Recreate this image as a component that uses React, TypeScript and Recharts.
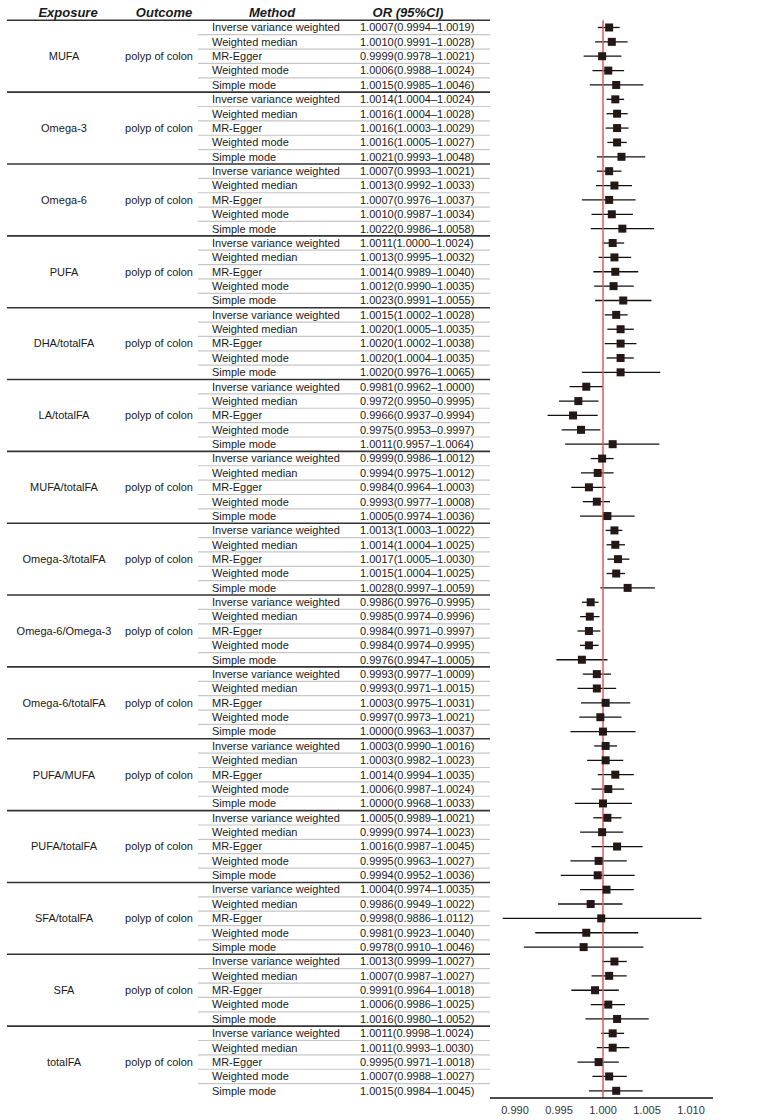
import { ScatterChart, Scatter, XAxis, YAxis, ErrorBar, ReferenceLine } from 'recharts';

const exposures = [
  'MUFA', 'Omega-3', 'Omega-6', 'PUFA', 'DHA/totalFA', 'LA/totalFA', 'MUFA/totalFA', 'Omega-3/totalFA',
  'Omega-6/Omega-3', 'Omega-6/totalFA', 'PUFA/MUFA', 'PUFA/totalFA', 'SFA/totalFA', 'SFA', 'totalFA',
];
const outcome = 'polyp of colon';
const methods = ['Inverse variance weighted', 'Weighted median', 'MR-Egger', 'Weighted mode', 'Simple mode'];

const orValues = [
  1.0007, 1.001, 0.9999, 1.0006, 1.0015,
  1.0014, 1.0016, 1.0016, 1.0016, 1.0021,
  1.0007, 1.0013, 1.0007, 1.001, 1.0022,
  1.0011, 1.0013, 1.0014, 1.0012, 1.0023,
  1.0015, 1.002, 1.002, 1.002, 1.002,
  0.9981, 0.9972, 0.9966, 0.9975, 1.0011,
  0.9999, 0.9994, 0.9984, 0.9993, 1.0005,
  1.0013, 1.0014, 1.0017, 1.0015, 1.0028,
  0.9986, 0.9985, 0.9984, 0.9984, 0.9976,
  0.9993, 0.9993, 1.0003, 0.9997, 1.0,
  1.0003, 1.0003, 1.0014, 1.0006, 1.0,
  1.0005, 0.9999, 1.0016, 0.9995, 0.9994,
  1.0004, 0.9986, 0.9998, 0.9981, 0.9978,
  1.0013, 1.0007, 0.9991, 1.0006, 1.0016,
  1.0011, 1.0011, 0.9995, 1.0007, 1.0015,
];
const ciLow = [
  0.9994, 0.9991, 0.9978, 0.9988, 0.9985,
  1.0004, 1.0004, 1.0003, 1.0005, 0.9993,
  0.9993, 0.9992, 0.9976, 0.9987, 0.9986,
  1.0, 0.9995, 0.9989, 0.999, 0.9991,
  1.0002, 1.0005, 1.0002, 1.0004, 0.9976,
  0.9962, 0.995, 0.9937, 0.9953, 0.9957,
  0.9986, 0.9975, 0.9964, 0.9977, 0.9974,
  1.0003, 1.0004, 1.0005, 1.0004, 0.9997,
  0.9976, 0.9974, 0.9971, 0.9974, 0.9947,
  0.9977, 0.9971, 0.9975, 0.9973, 0.9963,
  0.999, 0.9982, 0.9994, 0.9987, 0.9968,
  0.9989, 0.9974, 0.9987, 0.9963, 0.9952,
  0.9974, 0.9949, 0.9886, 0.9923, 0.991,
  0.9999, 0.9987, 0.9964, 0.9986, 0.998,
  0.9998, 0.9993, 0.9971, 0.9988, 0.9984,
];
const ciHigh = [
  1.0019, 1.0028, 1.0021, 1.0024, 1.0046,
  1.0024, 1.0028, 1.0029, 1.0027, 1.0048,
  1.0021, 1.0033, 1.0037, 1.0034, 1.0058,
  1.0024, 1.0032, 1.004, 1.0035, 1.0055,
  1.0028, 1.0035, 1.0038, 1.0035, 1.0065,
  1.0, 0.9995, 0.9994, 0.9997, 1.0064,
  1.0012, 1.0012, 1.0003, 1.0008, 1.0036,
  1.0022, 1.0025, 1.003, 1.0025, 1.0059,
  0.9995, 0.9996, 0.9997, 0.9995, 1.0005,
  1.0009, 1.0015, 1.0031, 1.0021, 1.0037,
  1.0016, 1.0023, 1.0035, 1.0024, 1.0033,
  1.0021, 1.0023, 1.0045, 1.0027, 1.0036,
  1.0035, 1.0022, 1.0112, 1.004, 1.0046,
  1.0027, 1.0027, 1.0018, 1.0025, 1.0052,
  1.0024, 1.003, 1.0018, 1.0027, 1.0045,
];
const pValues = [
  '0.3037', '0.3106', '0.9517', '0.5019', '0.3331',
  '0.0043', '0.0072', '0.0070', '0.1516', '0.1263',
  '0.3178', '0.2204', '0.6724', '0.3986', '0.2338',
  '0.0669', '0.1654', '0.2708', '0.2890', '0.1678',
  '0.0234', '0.0089', '0.0413', '0.0234', '0.3783',
  '0.0449', '0.0160', '0.0263', '0.0360', '0.7029',
  '0.8496', '0.5121', '0.1088', '0.3735', '0.7454',
  '0.0101', '0.0082', '0.0099', '0.0102', '0.0870',
  '0.0034', '0.0081', '0.0250', '0.0098', '0.1222',
  '0.4103', '0.5150', '0.8210', '0.8186', '0.9945',
  '0.6133', '0.8000', '0.1850', '0.5365', '0.9768',
  '0.5554', '0.9105', '0.2973', '0.7616', '0.7866',
  '0.7745', '0.4437', '0.9765', '0.5409', '0.5247',
  '0.0722', '0.4821', '0.5150', '0.5874', '0.3798',
  '0.0915', '0.2350', '0.6474', '0.4598', '0.3422',
];
const pStars = [
  '', '', '', '', '',
  '**', '**', '**', '', '',
  '', '', '', '', '',
  '', '', '', '', '',
  '*', '**', '*', '*', '',
  '*', '*', '*', '*', '',
  '', '', '', '', '',
  '*', '**', '*', '*', '',
  '**', '**', '*', '**', '',
  '', '', '', '', '',
  '', '', '', '', '',
  '', '', '', '', '',
  '', '', '', '', '',
  '', '', '', '', '',
  '', '', '', '', '',
];
const xTicks = [0.99, 0.995, 1.0, 1.005, 1.01];

const TOP = 20.3;
const AXIS_Y = 1098;
const N = orValues.length;
const ROW_H = (AXIS_Y - TOP) / N;
const TEXT = '#1a1a1a';

const rows = orValues.map((or, i) => ({ row: i, or, err: [or - ciLow[i], ciHigh[i] - or] }));
const rowTicks = rows.map((r) => r.row);

const fmt = (v: number) => v.toFixed(4);

function TableTick({ y, payload }: any) {
  const i = payload.value as number;
  const g = Math.floor(i / 5);
  const k = i % 5;
  const lineY = y + ROW_H / 2;
  const hy = y - ROW_H - 1;
  return (
    <g fill={TEXT} fontSize={11}>
      {i === 0 && (
        <g fontWeight="bold" fontStyle="italic" fontSize={13}>
          <text x={68} y={hy} dy="0.35em" textAnchor="middle">Exposure</text>
          <text x={164} y={hy} dy="0.35em" textAnchor="middle">Outcome</text>
          <text x={272} y={hy} dy="0.35em" textAnchor="middle">Method</text>
          <text x={408} y={hy} dy="0.35em" textAnchor="middle">OR (95%CI)</text>
          <line x1={7} x2={490} y1={y - ROW_H / 2} y2={y - ROW_H / 2} stroke="#333" strokeWidth={1.6} />
        </g>
      )}
      {k === 2 && (
        <>
          <text x={64} y={y} dy="0.35em" textAnchor="middle">{exposures[g]}</text>
          <text x={159} y={y} dy="0.35em" textAnchor="middle">{outcome}</text>
        </>
      )}
      <text x={212} y={y} dy="0.35em">{methods[k]}</text>
      <text x={360} y={y} dy="0.35em">
        {`${fmt(orValues[i])}(${fmt(ciLow[i])}–${fmt(ciHigh[i])})`}
      </text>
      {i < N - 1 &&
        (k === 4 ? (
          <line x1={7} x2={490} y1={lineY} y2={lineY} stroke="#333" strokeWidth={1.6} />
        ) : (
          <line x1={198} x2={490} y1={lineY} y2={lineY} stroke="#c6c6c6" strokeWidth={1.2} />
        ))}
    </g>
  );
}

function PValueTick({ y, payload }: any) {
  const i = payload.value as number;
  const sig = pStars[i] !== '';
  return (
    <g fill={TEXT} fontSize={11}>
      {i === 0 && (
        <text x={717} y={y - ROW_H - 1} dy="0.35em" fontWeight="bold" fontStyle="italic" fontSize={13}>
          p-value
        </text>
      )}
      <text x={719} y={y} dy="0.35em" fontWeight={sig ? 'bold' : 'normal'}>
        {pValues[i] + pStars[i]}
      </text>
    </g>
  );
}

function SquareMark({ cx, cy }: any) {
  return <rect x={cx - 4} y={cy - 4} width={8} height={8} fill="#231815" />;
}

export default function App() {
  return (
    <div style={{ position: 'absolute', left: 0, top: 0, fontFamily: '"Liberation Sans", Arial, sans-serif' }}>
      <ScatterChart width={774} height={1120} margin={{ top: TOP, right: 0, bottom: 0, left: 0 }}>
        <XAxis
          dataKey="or"
          type="number"
          domain={[0.98716, 1.0125]}
          ticks={xTicks}
          tickFormatter={(v: number) => v.toFixed(3)}
          tickLine={false}
          axisLine={{ stroke: '#111', strokeWidth: 1.5 }}
          tick={{ fontSize: 11, fill: '#333' }}
          height={22}
        />
        <YAxis
          yAxisId="left"
          dataKey="row"
          type="number"
          domain={[-0.5, N - 0.5]}
          reversed
          ticks={rowTicks}
          interval={0}
          width={490}
          axisLine={false}
          tickLine={false}
          tick={<TableTick />}
        />
        <YAxis
          yAxisId="right"
          orientation="right"
          dataKey="row"
          type="number"
          domain={[-0.5, N - 0.5]}
          reversed
          ticks={rowTicks}
          interval={0}
          width={61}
          axisLine={false}
          tickLine={false}
          tick={<PValueTick />}
        />
        <Scatter yAxisId="left" data={rows} shape={<SquareMark />} isAnimationActive={false}>
          <ErrorBar dataKey="err" direction="x" width={0} stroke="#111" strokeWidth={1.3} />
        </Scatter>
        <ReferenceLine yAxisId="left" x={1} stroke="#e0585c" strokeWidth={1.5} />
      </ScatterChart>
    </div>
  );
}
